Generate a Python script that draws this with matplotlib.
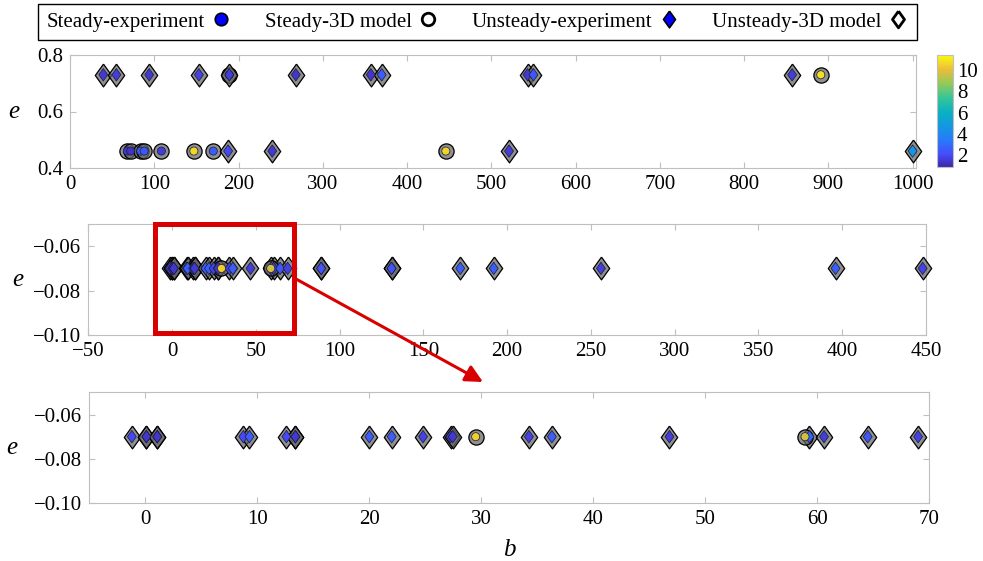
import matplotlib
matplotlib.use('agg')
import matplotlib.pyplot as plt
from matplotlib.colors import LinearSegmentedColormap, Normalize
from matplotlib.lines import Line2D
from matplotlib.patches import Rectangle
import matplotlib.cm as cm

# --- top panel: full b range ---
steady_b_top = [68, 72, 84, 88, 108.5, 147, 170, 446, 189, 891]
steady_e_top = [0.46, 0.46, 0.46, 0.46, 0.46, 0.46, 0.46, 0.46, 0.73, 0.73]
steady_c_top = [1.5, 1.3, 2.6, 2.4, 1.6, 10.6, 2.6, 10.5, 2.8, 10.8]

unsteady_b_top = [39.5, 55, 94, 153, 189, 268, 357, 370, 543, 550, 857, 187.6, 240, 521, 1000]
unsteady_e_top = [0.73, 0.73, 0.73, 0.73, 0.73, 0.73, 0.73, 0.73, 0.73, 0.73, 0.73, 0.46, 0.46, 0.46, 0.46]
unsteady_c_top = [1.5, 1.6, 1.5, 1.8, 1.6, 1.4, 1.4, 2.6, 1.5, 2.4, 1.6, 2.0, 1.5, 1.6, 4.6]

# --- middle / bottom panels: e = -0.07 ---
steady_b_low = [29.5, 58.9]
steady_e_low = [-0.07, -0.07]
steady_c_low = [10.4, 9.6]

unsteady_b_low = [-1.2, 0.1, 0.1, 1.07, 1.07, 8.75, 9.3, 12.6, 13.4, 13.4, 20, 22, 24.8, 27.25, 27.45,
                  34.25, 36.3, 46.8, 59.3, 60.6, 64.5, 69, 89, 89, 131, 131, 172, 192, 256, 396, 448]
unsteady_e_low = [-0.07] * len(unsteady_b_low)
unsteady_c_low = [2.0, 1.5, 1.4, 1.5, 1.4, 2.0, 2.6, 2.0, 1.4, 1.5, 2.6, 2.6, 1.8, 1.5, 1.5,
                  1.8, 2.6, 1.6, 2.8, 1.6, 2.4, 1.8, 2.4, 2.3, 2.4, 2.3, 2.6, 2.6, 1.6, 2.6, 1.8]

plt.rcParams['font.family'] = ['Liberation Serif', 'DejaVu Serif']
plt.rcParams['font.size'] = 15

parula = LinearSegmentedColormap.from_list('parula', [
    (0.00, (0.242, 0.150, 0.660)),
    (0.11, (0.278, 0.296, 0.977)),
    (0.24, (0.154, 0.482, 0.982)),
    (0.37, (0.070, 0.602, 0.876)),
    (0.49, (0.037, 0.697, 0.763)),
    (0.62, (0.209, 0.773, 0.593)),
    (0.75, (0.587, 0.791, 0.344)),
    (0.87, (0.922, 0.741, 0.230)),
    (1.00, (0.976, 0.983, 0.054)),
])
norm = Normalize(vmin=0.9, vmax=11.4)

DIAMOND = [(0, 1), (0.72, 0), (0, -1), (-0.72, 0), (0, 1)]
gray_face = (0.4, 0.4, 0.4, 0.72)
grid_gray = '0.75'


def draw_points(ax, b, e, c, marker, s_out, s_in, clip=True):
    ax.scatter(b, e, s=s_out, marker=marker, facecolors=[gray_face], edgecolors='k', linewidths=0.9,
               zorder=3, clip_on=clip)
    ax.scatter(b, e, s=s_in, marker=marker, c=c, cmap=parula, norm=norm,
               edgecolors=(0.1, 0.1, 0.2), linewidths=0.5, zorder=4, clip_on=clip)


def style_axes(ax):
    for sp in ax.spines.values():
        sp.set_color(grid_gray)
        sp.set_linewidth(0.8)
    ax.tick_params(direction='in', length=4, width=0.8, color=grid_gray, top=True, right=True,
                   labelsize=15, pad=5)


fig = plt.figure(figsize=(9.83, 5.61), dpi=100)

ax_top = fig.add_axes([70 / 983, 1 - 168 / 561, 846 / 983, 113 / 561])
ax_mid = fig.add_axes([88.3 / 983, 1 - 335 / 561, 837.7 / 983, 111 / 561])
ax_bot = fig.add_axes([89.3 / 983, 1 - 503.3 / 561, 840 / 983, 111 / 561])
cax = fig.add_axes([936.7 / 983, 1 - 167 / 561, 16 / 983, 112 / 561])

# top
draw_points(ax_top, steady_b_top, steady_e_top, steady_c_top, 'o', 120, 34, clip=False)
draw_points(ax_top, unsteady_b_top, unsteady_e_top, unsteady_c_top, DIAMOND, 270, 80, clip=False)
ax_top.set_xlim(0, 1004)
ax_top.set_ylim(0.4, 0.8)
ax_top.set_xticks(range(0, 1001, 100))
ax_top.set_yticks([0.4, 0.6, 0.8], ['0.4', '0.6', '0.8'])

# middle and bottom share the same data
for ax, clip in ((ax_mid, False), (ax_bot, True)):
    draw_points(ax, unsteady_b_low, unsteady_e_low, unsteady_c_low, DIAMOND, 270, 80, clip=clip)
    draw_points(ax, steady_b_low, steady_e_low, steady_c_low, 'o', 120, 34, clip=clip)
    ax.set_ylim(-0.1, -0.05)
    ax.set_yticks([-0.1, -0.08, -0.06], ['\u22120.10', '\u22120.08', '\u22120.06'])

ax_mid.set_xlim(-50, 450)
ax_mid.set_xticks(range(-50, 451, 50))
ax_bot.set_xlim(-5, 70)
ax_bot.set_xticks(range(0, 71, 10))

for ax, xl in ((ax_top, -0.067), (ax_mid, -0.084), (ax_bot, -0.092)):
    style_axes(ax)
    ax.set_ylabel('e', rotation=0, fontstyle='italic', fontsize=18, va='center', ha='center')
    ax.yaxis.set_label_coords(xl, 0.5)

ax_bot.set_xlabel('b', fontstyle='italic', fontsize=18, va='center')
ax_bot.xaxis.set_label_coords(0.5, -0.42)

# zoom box and arrow
ax_mid.add_patch(Rectangle((-10, -0.0989), 83, 0.0489, fill=False, edgecolor=(0.85, 0, 0),
                           linewidth=3.6, clip_on=False, zorder=6))
ax_mid.annotate('', xy=(483 / 983, 1 - 382 / 561), xycoords='figure fraction',
                xytext=(296 / 983, 1 - 279 / 561), textcoords='figure fraction',
                arrowprops=dict(arrowstyle='-|>', color=(0.85, 0, 0), lw=2.2, mutation_scale=26,
                                shrinkA=0, shrinkB=0))

# colorbar
cb = fig.colorbar(cm.ScalarMappable(norm=norm, cmap=parula), cax=cax)
cb.set_ticks([2, 4, 6, 8, 10])
cb.outline.set_edgecolor(grid_gray)
cax.tick_params(length=0, pad=3, labelsize=15)

# legend
handles = [
    Line2D([], [], ls='none', marker='o', mfc=(0, 0, 1), mec='k', ms=9, mew=1.2, label='Steady-experiment'),
    Line2D([], [], ls='none', marker='o', mfc='w', mec='k', ms=9, mew=2, label='Steady-3D model'),
    Line2D([], [], ls='none', marker=DIAMOND, mfc=(0, 0, 1), mec='k', ms=12, mew=1.2, label='Unsteady-experiment'),
    Line2D([], [], ls='none', marker=DIAMOND, mfc='w', mec='k', ms=12, mew=2, label='Unsteady-3D model'),
]
leg = fig.legend(handles=handles, loc='center', bbox_to_anchor=(38 / 983, 1 - 37 / 561, 879 / 983, 30 / 561),
                 mode='expand', ncol=4, markerfirst=False, fancybox=False, edgecolor='k', borderaxespad=0,
                 handletextpad=0.3, handlelength=1.0, fontsize=15, framealpha=1)
leg.get_frame().set_linewidth(1.0)

fig.savefig('out.png', dpi=100)
